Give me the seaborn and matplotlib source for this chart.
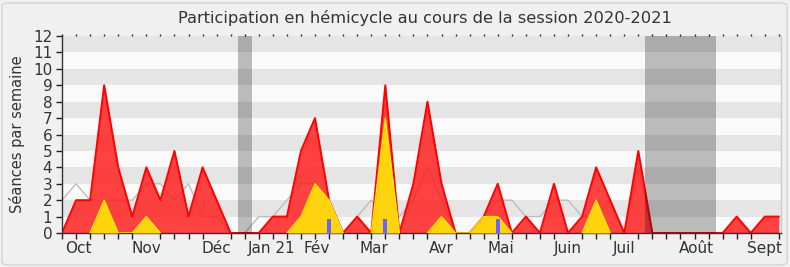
import numpy as np
import pandas as pd
import matplotlib
matplotlib.use("Agg")
import matplotlib.pyplot as plt
import seaborn as sns
from matplotlib.patches import FancyBboxPatch

# ---- data (weekly, session 2020-2021) ----
weeks = list(range(52))
presences = [0, 2, 2, 9, 4, 1, 4, 2, 5, 1,
             4, 2, 0, 0, 0, 1, 1, 5, 7, 2,
             0, 1, 0, 9, 0, 3, 8, 3, 0, 0,
             1, 3, 0, 1, 0, 3, 0, 1, 4, 2,
             0, 5, 0, 0, 0, 0, 0, 0, 1, 0,
             1, 1]
interventions = [0, 0, 0, 2, 0, 0, 1, 0, 0, 0,
                 0, 0, 0, 0, 0, 0, 0, 1, 3, 2,
                 0, 0, 0, 7, 0, 0, 0, 1, 0, 0,
                 1, 1, 0, 0, 0, 0, 0, 0, 2, 0,
                 0, 0, 0, 0, 0, 0, 0, 0, 0, 0,
                 0, 0]
mediane = [2, 3, 2, 2, 2, 2, 3, 3, 2, 3,
           1, 1, 0, 0, 1, 1, 2, 3, 3, 2,
           0, 1, 2, 1, 1, 2, 4, 2, 0, 0,
           1, 2, 2, 1, 1, 2, 2, 1, 1, 2,
           0, 4, 0, 0, 0, 0, 0, 0, 0, 0,
           0, 0]
question_weeks = [19, 23, 31]
question_heights = [0.85, 0.85, 0.85]
vacances = [13, 42, 43, 44, 45, 46]
month_labels = ["Oct", "Nov", "Déc", "Jan 21", "Fév", "Mar", "Avr", "Mai",
                "Juin", "Juil", "Août", "Sept"]
month_pos = [1.15, 6.0, 11.0, 14.93, 18.1, 22.2, 27.0, 31.2, 36.0, 40.0, 45.1, 50.0]
y_ticks = list(range(13))

df = pd.DataFrame({"semaine": weeks, "presences": presences,
                   "interventions": interventions, "mediane": mediane})

# yellow outline only where the yellow area exists
iv = df["interventions"].to_numpy(dtype=float)
edge = iv.copy()
for i in range(len(iv)):
    left = iv[i - 1] if i > 0 else 0
    right = iv[i + 1] if i < len(iv) - 1 else 0
    if iv[i] == 0 and left == 0 and right == 0:
        edge[i] = np.nan
df["interventions_edge"] = edge

sns.set_theme(style="white")
plt.rcParams["font.family"] = ["DejaVu Sans"]

W, H = 790, 267
fig = plt.figure(figsize=(W / 100, H / 100), dpi=100, facecolor="#f0f0f0")
ax = fig.add_axes([62 / W, 1 - 233 / H, (781 - 62) / W, (233 - 36) / H])
ax.set_facecolor("#fafafa")

# horizontal stripes
for k in y_ticks[:-1]:
    if k % 2 == 1:
        ax.axhspan(k, k + 1, color="#e5e5e5", lw=0, zorder=0)

# median line
sns.lineplot(data=df, x="semaine", y="mediane", ax=ax, color="#bdbdbd",
             lw=1, zorder=1, legend=False)

# presences (red)
ax.fill_between(df["semaine"], 0, df["presences"], color="#ff1a1a", alpha=0.82,
                lw=0, zorder=2)
sns.lineplot(data=df, x="semaine", y="presences", ax=ax, color="#ff0000",
             lw=1.4, zorder=2.5, legend=False)

# interventions (yellow)
ax.fill_between(df["semaine"], 0, df["interventions"], color="#ffd40f",
                lw=0, zorder=3)
ax.plot(df["semaine"], df["interventions_edge"], color="#ffe800", lw=1.0, zorder=3.5)

# questions (blue bars)
ax.bar(question_weeks, question_heights, width=0.3, color="#6666ff", lw=0, zorder=4)

# vacation bands (merge consecutive weeks)
runs = []
for w in sorted(vacances):
    if runs and w == runs[-1][1] + 1:
        runs[-1][1] = w
    else:
        runs.append([w, w])
for a, b in runs:
    ax.axvspan(a - 0.5, b + 0.5, color="black", alpha=0.25, lw=0, zorder=5)

ax.set_xlim(0, 51.15)
ax.set_ylim(0, 12)
ax.set_yticks(y_ticks)
ax.set_yticklabels([str(v) for v in y_ticks])
ax.set_xticks(month_pos)
ax.set_xticklabels(month_labels)
ax.set_xticks(weeks, minor=True)
ax.tick_params(axis="x", which="major", length=0, pad=6, labelsize=11, colors="#333333")
ax.tick_params(axis="x", which="minor", bottom=True, length=4, width=1, color="#222222",
               direction="out")
ax.tick_params(axis="y", which="major", left=True, length=4, width=1, color="#222222",
               labelsize=11, labelcolor="#333333", pad=3)
ax.set_xlabel("")
ax.set_ylabel("Séances par semaine", fontsize=10.5, color="#333333", labelpad=6)

sec = ax.secondary_xaxis("top")
sec.set_xticks(weeks)
sec.set_xticklabels([])
sec.tick_params(length=1.5, width=1, color="#222222", direction="out")
sec.spines["top"].set_visible(False)

ax.spines["top"].set_visible(False)
ax.spines["right"].set_color("#cccccc")
ax.spines["right"].set_linewidth(1)
ax.spines["left"].set_color("#333333")
ax.spines["left"].set_linewidth(1)
ax.spines["bottom"].set_color("#333333")
ax.spines["bottom"].set_linewidth(1)

fig.text(425 / W, 1 - 18 / H, "Participation en hémicycle au cours de la session 2020-2021",
         ha="center", va="center", fontsize=11.7, color="#333333")

border = FancyBboxPatch((2 / W, 2 / H), (W - 5) / W, (H - 5) / H,
                        boxstyle="round,pad=0,rounding_size=0.01",
                        transform=fig.transFigure, facecolor="none",
                        edgecolor="#d4d4d4", lw=1)
fig.patches.append(border)

fig.savefig("out.png", dpi=100, facecolor=fig.get_facecolor())
